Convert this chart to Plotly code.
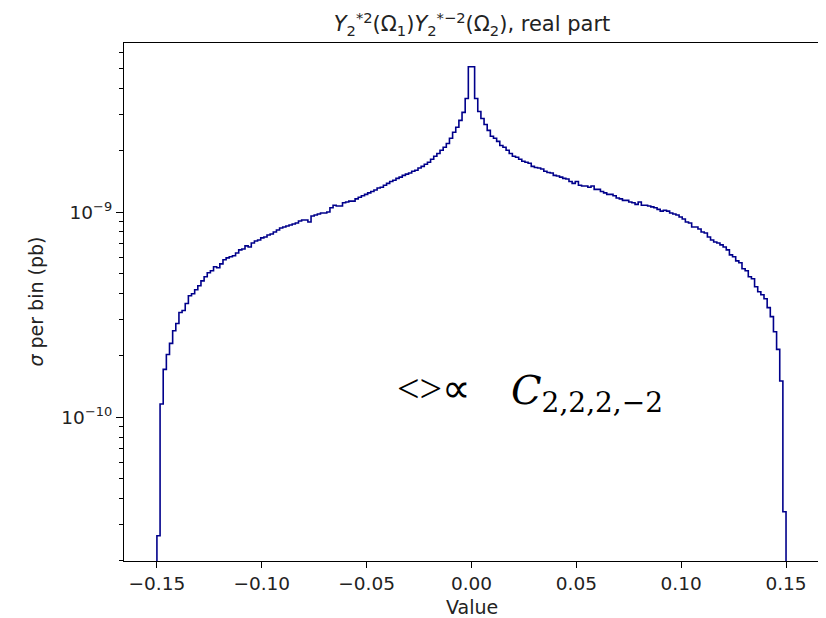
import numpy as np
import plotly.graph_objects as go

"""
Step histogram of the real part of Y_2^{*2}(Omega1) Y_2^{*-2}(Omega2), log y axis
"""

# binning of the histogram
BIN_LO = -0.15
BIN_HI = 0.15
N_BINS = 200

# sigma per bin in units of 1e-10 pb, read bin by bin from left to right
SIGMA_LEFT = [
    0.264, 1.16, 1.71, 2.02, 2.29, 2.64, 2.86, 3.24, 3.31, 3.58,
    3.91, 4.00, 4.18, 4.37, 4.62, 4.84, 5.06, 5.17, 5.41, 5.35,
    5.59, 5.85, 5.98, 6.05, 6.12, 6.32, 6.54, 6.61, 6.84, 6.76,
    7.07, 7.23, 7.31, 7.48, 7.56, 7.73, 7.82, 8.00, 8.18, 8.36,
    8.46, 8.55, 8.65, 8.75, 8.84, 9.04, 9.15, 9.15, 8.94, 9.56,
    9.67, 9.78, 9.89, 9.89, 10.0, 10.5, 10.8, 10.7, 10.7, 11.1,
    11.2, 11.3, 11.3, 11.6, 11.8, 12.0, 12.2, 12.4, 12.6, 12.8,
    13.1, 13.2, 13.5, 13.8, 14.1, 14.3, 14.6, 14.8, 15.1, 15.3,
    15.5, 15.8, 16.0, 16.4, 16.7, 17.1, 17.5, 18.1, 18.7, 19.3,
    20.0, 20.7, 21.6, 22.9, 24.5, 25.9, 28.0, 30.6, 35.8,
]
SIGMA_PEAK = [51.1, 51.1]
SIGMA_RIGHT = [
    35.8, 30.9, 28.6, 26.7, 25.0, 23.4, 22.9, 22.1, 21.1, 20.7,
    20.0, 19.3, 18.7, 18.5, 18.1, 17.7, 17.5, 17.3, 16.7, 16.5,
    16.4, 16.2, 15.8, 15.6, 15.5, 15.1, 15.0, 14.8, 14.6, 14.5,
    14.1, 13.8, 14.1, 13.5, 13.4, 13.4, 13.2, 13.4, 12.9, 12.9,
    12.6, 12.4, 12.2, 12.2, 12.0, 11.7, 11.6, 11.4, 11.4, 11.2,
    11.1, 10.9, 11.2, 10.8, 10.8, 10.7, 10.6, 10.5, 10.3, 10.1,
    10.2, 10.1, 9.89, 9.78, 9.67, 9.46, 9.25, 8.94, 8.84, 8.46,
    8.46, 8.27, 8.00, 7.91, 7.56, 7.31, 7.15, 7.07, 6.92, 6.76,
    6.54, 6.18, 6.05, 5.78, 5.66, 5.29, 5.17, 4.84, 4.73, 4.32,
    4.09, 3.95, 3.78, 3.42, 3.09, 2.61, 2.14, 1.50, 0.346,
]
SIGMA_UNIT = 1e-10

X_TICKS = [-0.15, -0.10, -0.05, 0.00, 0.05, 0.10, 0.15]
X_TICK_TEXT = ["\u22120.15", "\u22120.10", "\u22120.05", "0.00", "0.05", "0.10", "0.15"]
Y_TICKS = [1e-10, 1e-9]
Y_TICK_TEXT = ["10<sup>\u221210</sup>", "10<sup>\u22129</sup>"]

TITLE = "<i>Y</i><sub>2</sub><sup>*2</sup>(\u03a9<sub>1</sub>)<i>Y</i><sub>2</sub><sup>*\u22122</sup>(\u03a9<sub>2</sub>), real part"
NOTE_LEFT = "&lt;&gt;\u221d"
NOTE_RIGHT = "<i>C</i><sub>2,2,2,\u22122</sub>"

FONT = "DejaVu Sans"
TEXT_COLOR = "#222"
LINE_COLOR = "#00008b"


def main():
    sigma = (np.array(SIGMA_LEFT + SIGMA_PEAK + SIGMA_RIGHT) * SIGMA_UNIT).tolist()
    edges = np.linspace(BIN_LO, BIN_HI, N_BINS + 1).tolist()

    # step outline that drops off the bottom of the axes at both ends
    floor = 1e-13
    xs = [edges[0]] + edges[:-1] + [edges[-1]]
    ys = [floor] + sigma + [floor]

    fig = go.Figure()
    fig.add_trace(
        go.Scatter(
            x=xs,
            y=ys,
            mode="lines",
            line=dict(shape="hv", color=LINE_COLOR, width=1.6),
            showlegend=False,
        )
    )

    minor_vals = [m * 10.0 ** e for e in (-11, -10, -9) for m in range(2, 10)]
    axis_common = dict(
        showline=True,
        linecolor="black",
        linewidth=1.2,
        mirror=True,
        showgrid=False,
        zeroline=False,
        ticks="outside",
        tickcolor="black",
        tickfont=dict(family=FONT, size=18.5, color=TEXT_COLOR),
    )

    fig.update_xaxes(
        range=[-0.1657, 0.1662],
        tickmode="array",
        tickvals=X_TICKS,
        ticktext=X_TICK_TEXT,
        ticklen=6,
        **axis_common,
    )
    fig.update_yaxes(
        type="log",
        range=[np.log10(1.99e-11), np.log10(6.67e-9)],
        tickmode="array",
        tickvals=Y_TICKS,
        ticktext=Y_TICK_TEXT,
        ticklen=7,
        minor=dict(ticks="outside", tickvals=minor_vals, ticklen=4, tickcolor="black"),
        **axis_common,
    )

    fig.add_annotation(
        text="Value", xref="paper", yref="paper", x=0.5, y=-0.089,
        xanchor="center", yanchor="middle", showarrow=False,
        font=dict(family=FONT, size=19, color=TEXT_COLOR),
    )
    fig.add_annotation(
        text="<i>\u03c3</i> per bin (pb)", xref="paper", yref="paper", x=-0.127, y=0.5,
        xanchor="center", yanchor="middle", textangle=-90, showarrow=False,
        font=dict(family=FONT, size=19, color=TEXT_COLOR),
    )
    fig.add_annotation(
        text=NOTE_LEFT, xref="paper", yref="paper", x=0.39, y=0.333,
        xanchor="left", yanchor="middle", showarrow=False,
        font=dict(family="Liberation Serif", size=40, color="black"),
    )
    fig.add_annotation(
        text=NOTE_RIGHT, xref="paper", yref="paper", x=0.553, y=0.325,
        xanchor="left", yanchor="middle", showarrow=False,
        font=dict(family="DejaVu Serif", size=40, color="black"),
    )

    # the page adds an 8px body margin, so the figure is 8px smaller than the window
    fig.update_layout(
        width=818,
        height=610,
        margin=dict(l=116, r=6, t=35, b=57),
        paper_bgcolor="white",
        plot_bgcolor="white",
        title=dict(
            text=TITLE, xref="paper", x=0.5, xanchor="center",
            y=1 - 16 / 610, yanchor="middle",
            font=dict(family=FONT, size=21, color=TEXT_COLOR),
        ),
    )
    fig.write_html("out.html")


if __name__ == "__main__":
    main()
